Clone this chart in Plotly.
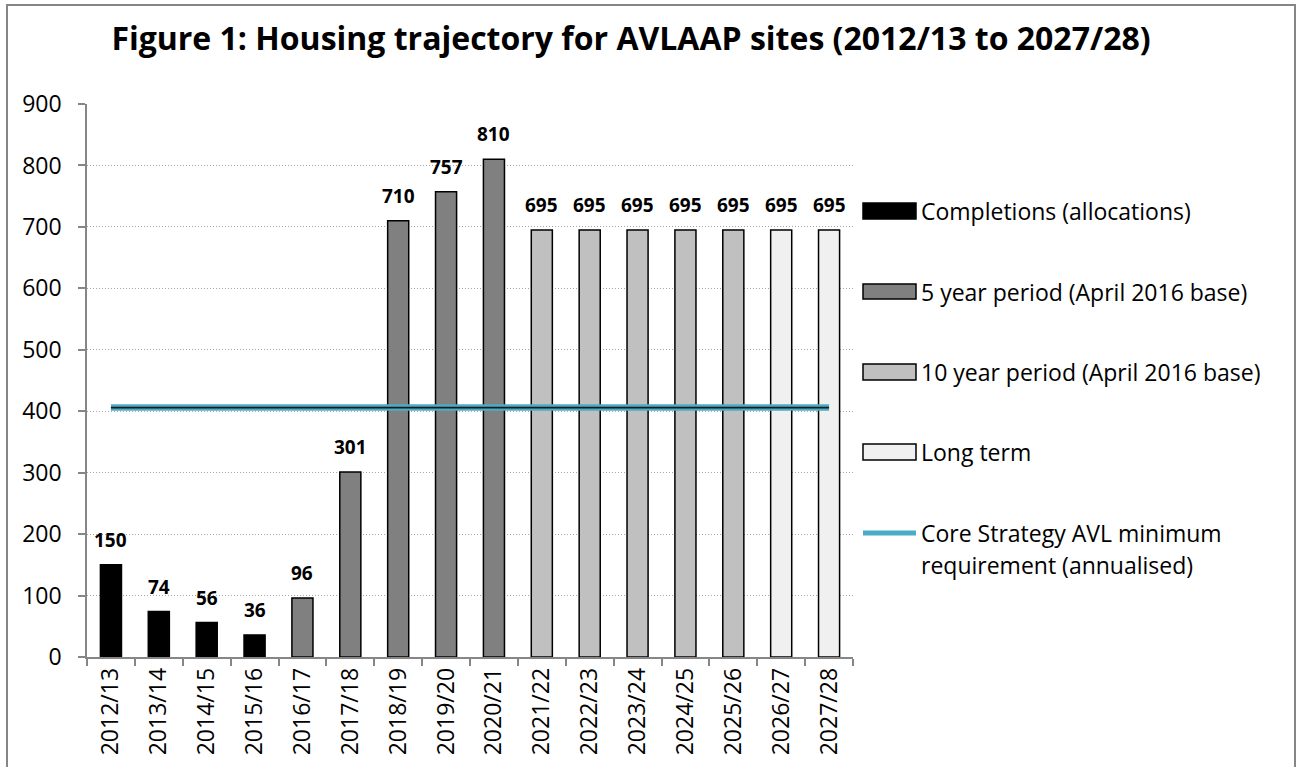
import plotly.graph_objects as go

categories = ["2012/13", "2013/14", "2014/15", "2015/16", "2016/17", "2017/18",
              "2018/19", "2019/20", "2020/21", "2021/22", "2022/23", "2023/24",
              "2024/25", "2025/26", "2026/27", "2027/28"]
completions_cats = ["2012/13", "2013/14", "2014/15", "2015/16"]
completions = [150, 74, 56, 36]
five_year_cats = ["2016/17", "2017/18", "2018/19", "2019/20", "2020/21"]
five_year = [96, 301, 710, 757, 810]
ten_year_cats = ["2021/22", "2022/23", "2023/24", "2024/25", "2025/26"]
ten_year = [695, 695, 695, 695, 695]
long_term_cats = ["2026/27", "2027/28"]
long_term = [695, 695]
requirement = 406
y_ticks = [0, 100, 200, 300, 400, 500, 600, 700, 800, 900]

series_names = ["Completions (allocations)", "5 year period (April 2016 base)",
                "10 year period (April 2016 base)", "Long term"]
line_name = ["Core Strategy AVL minimum", "requirement (annualised)"]
title_text = "Figure 1: Housing trajectory for AVLAAP sites (2012/13 to 2027/28)"

FONT = "Open Sans"
W, H = 1301, 767
# plot area in page coordinates: x 87..853, y 104..657
L, R, T, B = 87, W - 853, 104, H - 657
PW, PH = W - L - R, H - T - B

def px(xp):
    return (xp - L) / PW

def py(yp):
    return (H - B - yp) / PH

fills = ["#000000", "#808080", "#c0c0c0", "#f0f0f0"]
teal = "#4bacc6"

fig = go.Figure()
groups = [(completions_cats, completions), (five_year_cats, five_year),
          (ten_year_cats, ten_year), (long_term_cats, long_term)]
for (xs, ys), name, col in zip(groups, series_names, fills):
    fig.add_trace(go.Bar(x=xs, y=ys, name=name, width=0.44,
                         marker=dict(color=col, line=dict(color="#000000", width=1.5)),
                         showlegend=False))

fig.add_trace(go.Scatter(x=[categories[0], categories[-1]], y=[requirement, requirement],
                         mode="lines", line=dict(color=teal, width=6.5), showlegend=False))
fig.add_trace(go.Scatter(x=[categories[0], categories[-1]], y=[requirement, requirement],
                         mode="lines", line=dict(color="#1a1a1a", width=1.8), showlegend=False))

# data labels
for xs, ys in groups:
    for xv, yv in zip(xs, ys):
        fig.add_annotation(x=xv, y=yv, text=f"<b>{yv}</b>", showarrow=False,
                           yshift=25, yanchor="middle", xref="x", yref="y",
                           font=dict(family=FONT, size=19, color="#000000"))

shapes = []
# outer frame
shapes.append(dict(type="rect", xref="paper", yref="paper",
                   x0=px(7), x1=px(1295), y0=py(5), y1=py(790),
                   line=dict(color="#868686", width=2), fillcolor="rgba(0,0,0,0)"))
# manual legend
leg_rows = [(203, 219), (284, 299), (364, 380), (444, 460)]
for (y0, y1), name, col in zip(leg_rows, series_names, fills):
    shapes.append(dict(type="rect", xref="paper", yref="paper",
                       x0=px(863), x1=px(916), y0=py(y1), y1=py(y0),
                       fillcolor=col, line=dict(color="#000000", width=1.5)))
    fig.add_annotation(x=px(919), y=py((y0 + y1) / 2), xref="paper", yref="paper",
                       text=name, showarrow=False, xanchor="left", yanchor="middle",
                       font=dict(family=FONT, size=23, color="#000000"))
shapes.append(dict(type="line", xref="paper", yref="paper",
                   x0=px(863), x1=px(916), y0=py(533), y1=py(533),
                   line=dict(color=teal, width=5)))
for i, t in enumerate(line_name):
    fig.add_annotation(x=px(919), y=py(533 + 32 * i), xref="paper", yref="paper",
                       text=t, showarrow=False, xanchor="left", yanchor="middle",
                       font=dict(family=FONT, size=23, color="#000000"))

fig.update_layout(
    width=W, height=H,
    margin=dict(l=L, r=R, t=T, b=B),
    paper_bgcolor="white", plot_bgcolor="white",
    barmode="overlay",
    shapes=shapes,
    hovermode=False,
    title=dict(text=f"<b>{title_text}</b>", x=631 / W, xanchor="center",
               xref="container", yref="container", y=1 - 39 / H, yanchor="middle",
               font=dict(family=FONT, size=32, color="#000000")),
    font=dict(family=FONT, color="#000000"),
)
fig.update_xaxes(type="category", categoryorder="array", categoryarray=categories,
                 range=[-0.5, len(categories) - 0.5],
                 showline=True, linecolor="#868686", linewidth=1.5,
                 ticks="outside", tickson="boundaries", ticklen=7, tickcolor="#868686",
                 tickwidth=1.5, tickangle=-90, showgrid=False,
                 tickfont=dict(family=FONT, size=23, color="#000000"))
fig.update_yaxes(range=[0, 900], tickvals=y_ticks, showline=True, linecolor="#868686",
                 linewidth=1.5, ticks="outside", ticklen=7, tickcolor="#868686", tickwidth=1.5,
                 showgrid=True, gridcolor="#a6a6a6", griddash="1px,2px", gridwidth=1,
                 zeroline=False, ticklabelstandoff=12,
                 tickfont=dict(family=FONT, size=23, color="#000000"))

fig.write_html("out.html", config={"displayModeBar": False},
               post_script="document.body.style.margin='0';document.body.style.overflow='hidden';")
